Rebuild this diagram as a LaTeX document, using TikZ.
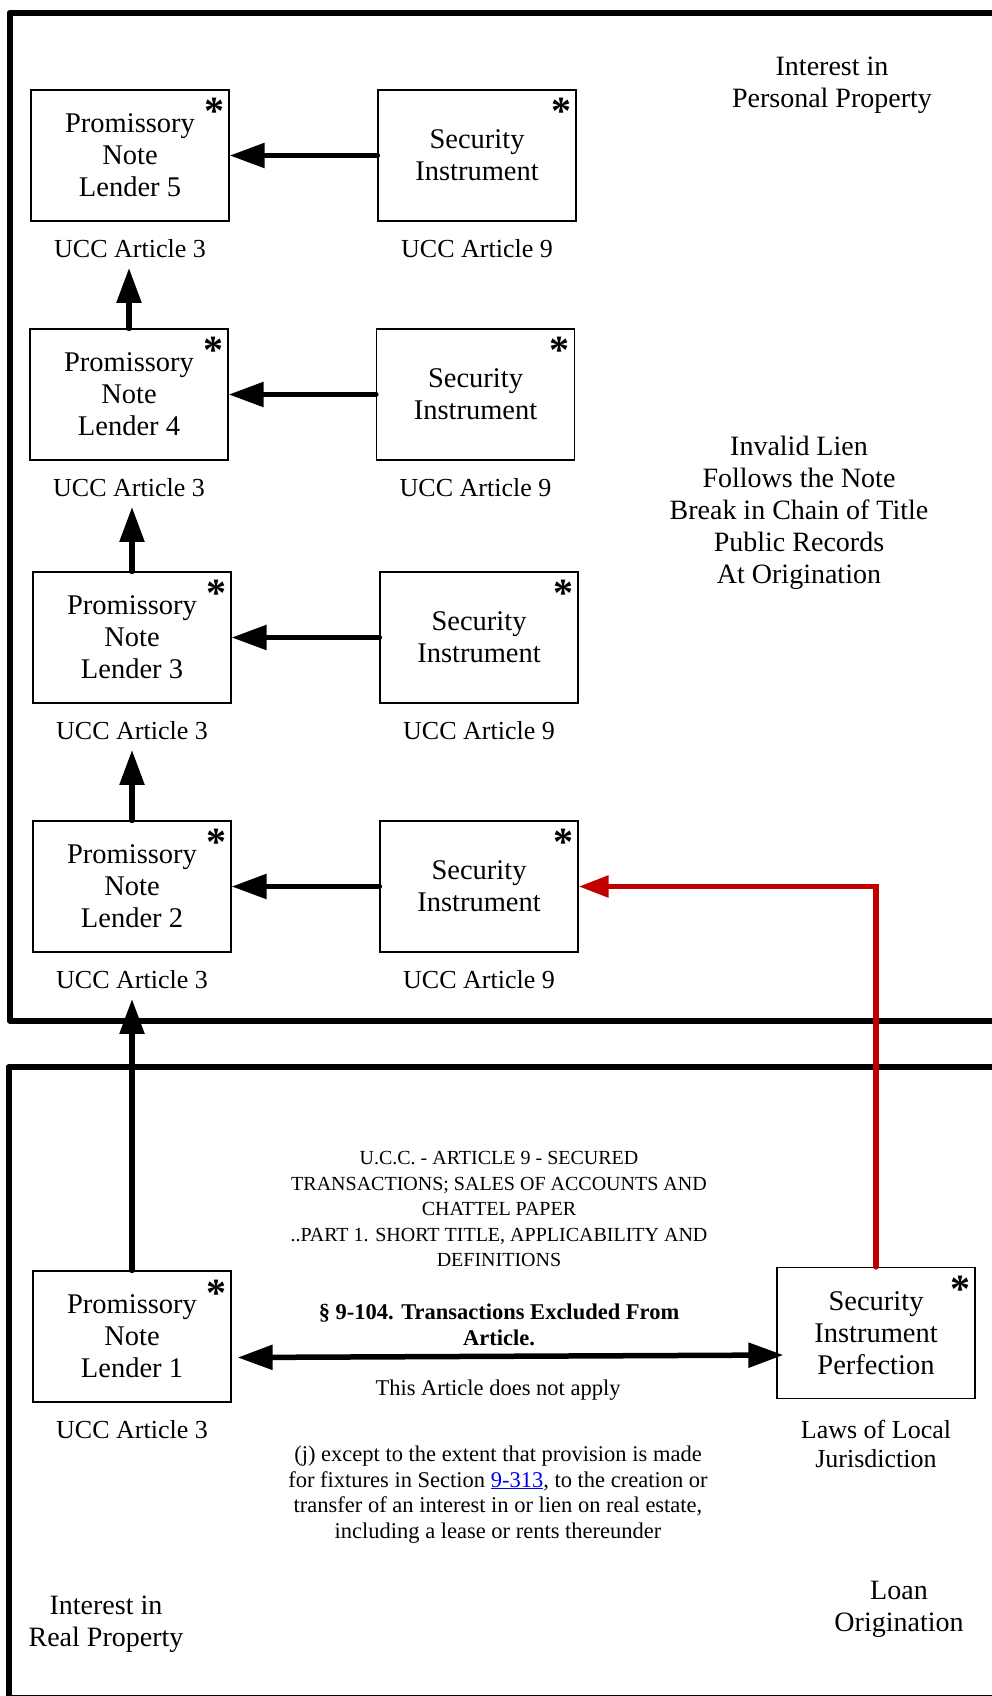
\documentclass[tikz,border=0pt]{standalone}
\usepackage{fontspec}
\setmainfont{Liberation Serif}
\usetikzlibrary{arrows.meta, positioning}
\definecolor{linkred}{HTML}{C00000}
\definecolor{linkblue}{HTML}{0000EE}

\begin{document}
\begin{tikzpicture}[
  x=1pt, y=-1pt,
  every node/.style={align=center},
  notebox/.style={draw=black, line width=1.2pt, minimum width=198pt, minimum height=131pt, inner sep=0pt, font=\fontsize{28.5}{32}\selectfont},
  ucclabel/.style={inner sep=10pt, font=\fontsize{26}{29}\selectfont},
  bigtext/.style={font=\fontsize{28}{32}\selectfont},
  smalltext/.style={font=\fontsize{22.5}{25.7}\selectfont},
  boldtext/.style={font=\fontsize{22.5}{26}\selectfont\bfseries},
  capstext/.style={font=\fontsize{20}{25.5}\selectfont},
  starmark/.style={anchor=north east, inner sep=0pt, font=\fontsize{40}{40}\selectfont\bfseries},
  frame/.style={line width=6pt, line join=round},
  arrow/.style={line width=5.5pt, line cap=round, -{Triangle[length=35pt, width=24pt]}},
  redarrow/.style={draw=linkred, line width=5.5pt, line cap=round, -{Triangle[length=30pt, width=21pt]}}
]
\useasboundingbox (0,0) rectangle (992,1696);
\clip (0,0) rectangle (992,1696);

% the two areas
\draw[frame] (1000,13) -- (9.5,13) -- (9.5,1020.5) -- (1000,1020.5);
\draw[frame] (1000,1067) -- (8.5,1067) -- (8.5,1698) -- (1000,1698);

% notes and security instruments
\node (n5) [notebox] at (130,155.5) {Promissory\\Note\\Lender 5};
\node (r5) [notebox] at (477,155.5) {Security\\Instrument};
\node (n4) [notebox] at (129,394.5) {Promissory\\Note\\Lender 4};
\node (r4) [notebox] at (475.5,394.5) {Security\\Instrument};
\node (n3) [notebox] at (132,637.5) {Promissory\\Note\\Lender 3};
\node (r3) [notebox] at (479,637.5) {Security\\Instrument};
\node (n2) [notebox] at (132,886.5) {Promissory\\Note\\Lender 2};
\node (r2) [notebox] at (479,886.5) {Security\\Instrument};
\node (n1) [notebox] at (132,1336.5) {Promissory\\Note\\Lender 1};
\node (pf) [notebox] at (876,1333) {Security\\Instrument\\Perfection};

\foreach \b in {n5,r5,n4,r4,n3,r3,n2,r2,n1,pf}
  \node (star-\b) [starmark] at ([xshift=-5pt, yshift=-9pt]\b.north east) {*};

% labels under the boxes
\node (a5) [ucclabel, below=27pt of n5, anchor=center] {UCC Article 3};
\node (b5) [ucclabel, below=27pt of r5, anchor=center] {UCC Article 9};
\node (a4) [ucclabel, below=27pt of n4, anchor=center] {UCC Article 3};
\node (b4) [ucclabel, below=27pt of r4, anchor=center] {UCC Article 9};
\node (a3) [ucclabel, below=27pt of n3, anchor=center] {UCC Article 3};
\node (b3) [ucclabel, below=27pt of r3, anchor=center] {UCC Article 9};
\node (a2) [ucclabel, below=27pt of n2, anchor=center] {UCC Article 3};
\node (b2) [ucclabel, below=27pt of r2, anchor=center] {UCC Article 9};
\node (a1) [ucclabel, below=27pt of n1, anchor=center] {UCC Article 3};
\node (law) [ucclabel, below=44.5pt of pf, anchor=center] {Laws of Local\\Jurisdiction};

% texts
\node (pp) [bigtext] at (832,85) {Interest in\\Personal Property};
\node (lien) [bigtext] at (799,512.5) {Invalid Lien\\Follows the Note\\Break in Chain of Title\\Public Records\\At Origination};
\node (ucc9) [capstext] at (499,1209) {U.C.C. - ARTICLE 9 - SECURED\\TRANSACTIONS; SALES OF ACCOUNTS AND\\CHATTEL PAPER\\..PART 1. SHORT TITLE, APPLICABILITY AND\\DEFINITIONS};
\node (sec) [boldtext] at (499,1325) {§ 9-104. Transactions Excluded From\\Article.};
\node (na) [smalltext] at (498,1390) {This Article does not apply};
\node (excl) [smalltext] at (498,1494.5) {(j) except to the extent that provision is made\\for fixtures in Section \textcolor{linkblue}{\underline{9-313}}, to the creation or\\transfer of an interest in or lien on real estate,\\including a lease or rents thereunder};
\node (rp) [bigtext] at (106,1624) {Interest in\\Real Property};
\node (lo) [bigtext] at (899,1609) {Loan\\Origination};

% connectors
\draw[arrow] (r5.west) -- (n5.east);
\draw[arrow] (r4.west) -- (n4.east);
\draw[arrow] (r3.west) -- (n3.east);
\draw[arrow] (r2.west) -- (n2.east);
\draw[arrow] (n4.north) -- (n4.north |- a5.south);
\draw[arrow] (n3.north) -- (n3.north |- a4.south);
\draw[arrow] (n2.north) -- (n2.north |- a3.south);
\draw[arrow] (n1.north) -- (n1.north |- a2.south);
\draw[redarrow] (pf.north) |- (r2.east);
\draw[arrow, {Triangle[length=35pt, width=24pt]}-{Triangle[length=35pt, width=24pt]}] ([xshift=6pt, yshift=-21pt]n1.east) -- ([xshift=7pt, yshift=-22pt]pf.west);

\end{tikzpicture}
\end{document}
